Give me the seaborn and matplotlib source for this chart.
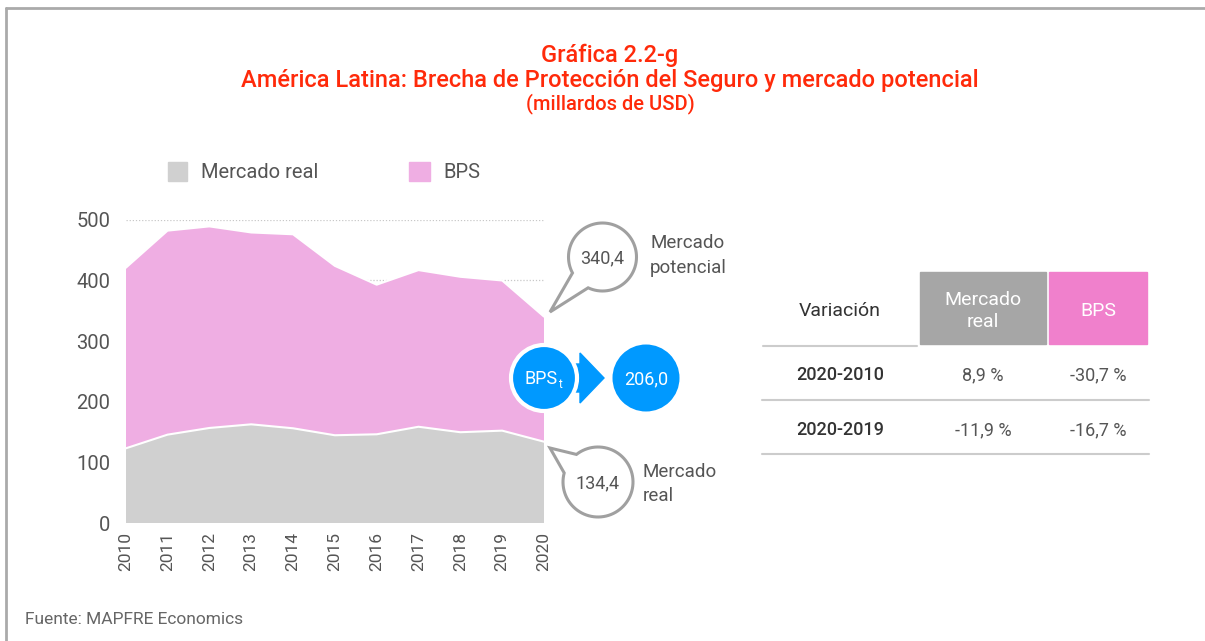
import numpy as np
import pandas as pd
import seaborn as sns
import matplotlib.pyplot as plt
from matplotlib.patches import Rectangle, Circle, Polygon, PathPatch
from matplotlib.path import Path

# ===== data (millardos de USD) =====
years = [2010, 2011, 2012, 2013, 2014, 2015, 2016, 2017, 2018, 2019, 2020]
mercado_real = [123.4, 146.0, 157.0, 163.0, 156.5, 145.0, 146.6, 159.0, 150.0, 152.6, 134.4]
mercado_potencial = [420.7, 482.0, 489.0, 479.0, 476.0, 424.0, 393.0, 417.0, 406.0, 399.9, 340.4]
bps_total = 206.0

table_cols = ['Mercado\nreal', 'BPS']
table_rows = ['2020-2010', '2020-2019']
var_real = ['8,9 %', '-11,9 %']
var_bps = ['-30,7 %', '-16,7 %']

df = pd.DataFrame({'year': years, 'real': mercado_real, 'potencial': mercado_potencial})
df['bps'] = df['potencial'] - df['real']

sns.set_theme(style='white')
plt.rcParams['font.family'] = ['Roboto', 'DejaVu Sans']

GRAY = '#d0d0d0'
PINK = '#efaee3'
BLUE = '#0099ff'
RED = '#ff2a0a'
TXT = '#555555'

fig = plt.figure(figsize=(12.05, 6.41), dpi=100)

# ---- main area chart ----
ax = fig.add_axes([125.7 / 1205, 1 - 523.3 / 641, (544 - 125.7) / 1205, (523.3 - 219.7) / 641])
ax.stackplot(df['year'], df['real'], df['bps'], colors=[GRAY, PINK], edgecolor='none')
sns.lineplot(data=df, x='year', y='real', color='white', linewidth=1.5, ax=ax)
sns.lineplot(data=df, x='year', y='potencial', color='white', linewidth=1.5, ax=ax)
for yv in [0, 100, 200, 300, 400, 500]:
    ax.axhline(yv, color='#c8c8c8', linestyle=(0, (1, 1.5)), linewidth=0.9, zorder=0)
ax.set_xlim(2010, 2020)
ax.set_ylim(0, 500)
ax.set_yticks([0, 100, 200, 300, 400, 500])
ax.set_xticks(years)
ax.set_xticklabels([str(y) for y in years], rotation=90)
ax.tick_params(axis='y', labelsize=14.5, colors=TXT, pad=11, length=0)
ax.tick_params(axis='x', labelsize=12.5, colors=TXT, pad=6, length=0)
ax.set_xlabel('')
ax.set_ylabel('')
for s in ax.spines.values():
    s.set_visible(False)

# ---- overlay in pixel coordinates ----
ov = fig.add_axes([0, 0, 1, 1], facecolor='none')
ov.set_xlim(0, 1205)
ov.set_ylim(641, 0)
ov.axis('off')

# frame
ov.plot([6, 1205], [8, 8], color='#aaaaaa', lw=2)
ov.plot([6, 6], [8, 641], color='#aaaaaa', lw=2)

# title
ov.text(610, 55, 'Gráfica 2.2-g', color=RED, fontsize=17, fontweight='medium', ha='center', va='center')
ov.text(610, 81, 'América Latina: Brecha de Protección del Seguro y mercado potencial',
        color=RED, fontsize=17, fontweight='medium', ha='center', va='center')
ov.text(610, 104, '(millardos de USD)', color=RED, fontsize=14.5, fontweight='medium',
        ha='center', va='center')

# legend
ov.add_patch(Rectangle((168, 162), 19, 19, color=GRAY))
ov.text(201, 172, 'Mercado real', color=TXT, fontsize=14.5, va='center')
ov.add_patch(Rectangle((409, 162), 21, 19, color=PINK))
ov.text(443, 172, 'BPS', color=TXT, fontsize=14.5, va='center')


def bubble(cx, cy, r, a1, a2, tip):
    # circle outline with a tail, gap between angles a1..a2 (degrees, y down)
    t = np.radians(np.linspace(a2, a1 + 360, 80))
    pts = [(cx + r * np.cos(v), cy + r * np.sin(v)) for v in t]
    pts.append(tip)
    pts.append(pts[0])
    codes = [Path.MOVETO] + [Path.LINETO] * (len(pts) - 2) + [Path.CLOSEPOLY]
    ov.add_patch(PathPatch(Path(pts, codes), facecolor='white', edgecolor='#a0a0a0', lw=2.2, zorder=5))


bubble(602.5, 257, 34, 115, 152, (550, 312))
ov.text(602.5, 258, f'{mercado_potencial[-1]:.1f}'.replace('.', ','), color=TXT, fontsize=13,
        ha='center', va='center', zorder=6)
ov.text(650, 243, 'Mercado', color=TXT, fontsize=13.5, va='center')
ov.text(650, 268, 'potencial', color=TXT, fontsize=13.5, va='center')

bubble(598, 482, 35, 195, 232, (550, 448))
ov.text(598, 483, f'{mercado_real[-1]:.1f}'.replace('.', ','), color=TXT, fontsize=13,
        ha='center', va='center', zorder=6)
ov.text(643, 472, 'Mercado', color=TXT, fontsize=13.5, va='center')
ov.text(643, 496, 'real', color=TXT, fontsize=13.5, va='center')

# BPS arrow
ov.add_patch(Polygon([(565, 364), (580, 364), (580, 353), (604, 378), (580, 403), (580, 392), (565, 392)],
                     color=BLUE, zorder=5))
ov.add_patch(Circle((544, 378), 33, facecolor=BLUE, edgecolor='white', lw=3, zorder=6))
ov.text(541, 379, 'BPS', color='white', fontsize=13, ha='center', va='center', zorder=7)
ov.text(560, 385, 't', color='white', fontsize=8.5, ha='center', va='center', zorder=7)
ov.add_patch(Circle((646, 378), 33.5, facecolor=BLUE, edgecolor='none', zorder=6))
ov.text(646, 379, f'{bps_total:.1f}'.replace('.', ','), color='white', fontsize=13,
        ha='center', va='center', zorder=7)

# table
ov.text(840, 311, 'Variación', color='#333333', fontsize=14, ha='center', va='center')
ov.add_patch(Rectangle((919.5, 271.7), 126.5, 72.6, color='#a6a6a6'))
ov.add_patch(Rectangle((1048.7, 271.7), 98.6, 72.6, color='#f080cc'))
ov.text(983, 311, table_cols[0], color='white', fontsize=14, ha='center', va='center', linespacing=1.3)
ov.text(1098, 311, table_cols[1], color='white', fontsize=14, ha='center', va='center')
ov.plot([763, 917], [346, 346], color='#cccccc', lw=1.5)
for yl in [400, 453.5]:
    ov.plot([762, 1149], [yl, yl], color='#cccccc', lw=1.5)
for yr, lab, vr, vb in zip([375, 430], table_rows, var_real, var_bps):
    ov.text(840, yr, lab, color='#333333', fontsize=13, fontweight='medium', ha='center', va='center')
    ov.text(983, yr, vr, color=TXT, fontsize=13, ha='center', va='center')
    ov.text(1098, yr, vb, color=TXT, fontsize=13, ha='center', va='center')

# source
ov.text(25, 619, 'Fuente: MAPFRE Economics', color='#666666', fontsize=12.5, va='center')

fig.savefig('out.png', dpi=100, facecolor='white')
